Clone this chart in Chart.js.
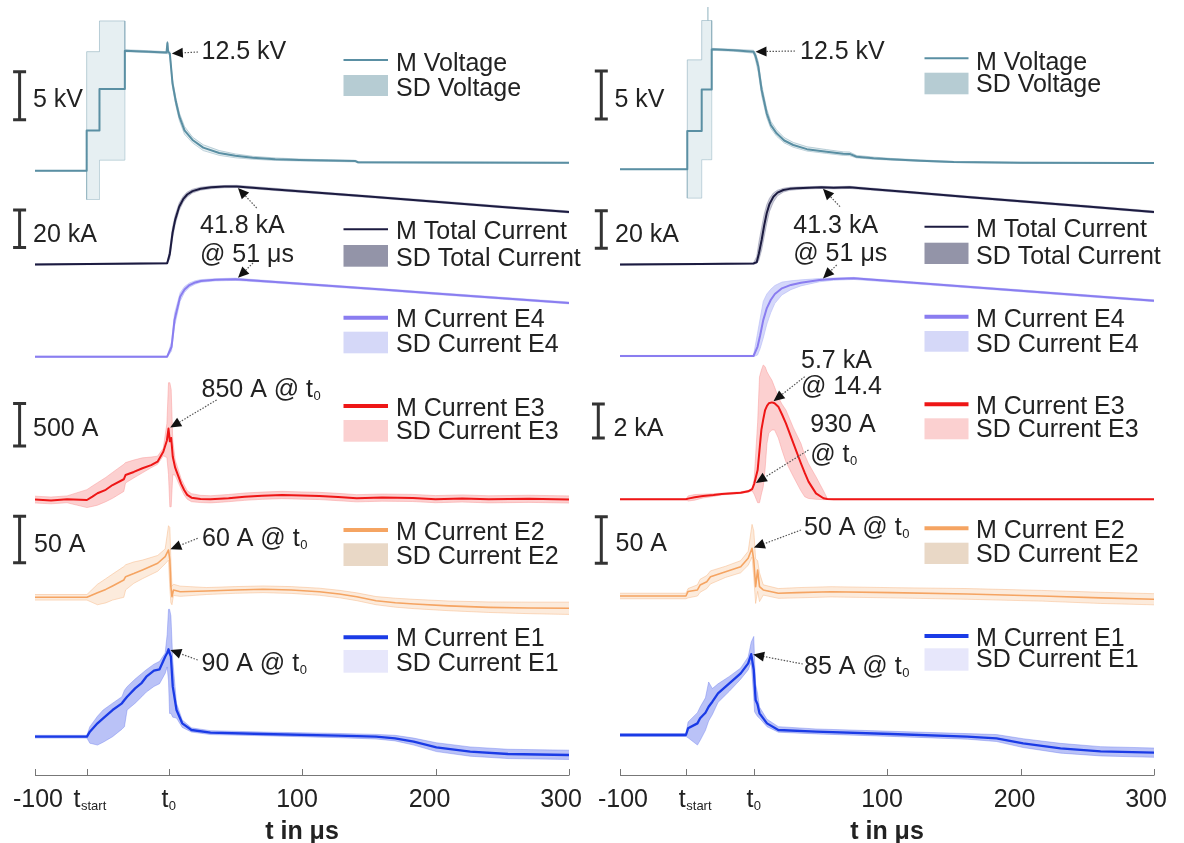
<!DOCTYPE html>
<html>
<head>
<meta charset="utf-8">
<script src="https://cdn.jsdelivr.net/npm/chart.js@4.4.1/dist/chart.umd.min.js"></script>
<style>
  html, body { margin: 0; padding: 0; background: #fff; }
  #wrap { position: relative; width: 1184px; height: 843px; overflow: hidden; }
  canvas { position: absolute; top: 0; }
  #cL { left: 0; }
  #cR { left: 592px; }
</style>
</head>
<body>
<div id="wrap">
  <canvas id="cL" width="592" height="843"></canvas>
  <canvas id="cR" width="592" height="843"></canvas>
</div>
<script>
// ---- x ticks (t in us) ----
const tStartL = -61.3, tStartR = -50.6;
const tickValsL = [-100, tStartL, 0, 100, 200, 300];
const tickValsR = [-100, tStartR, 0, 100, 200, 300];
const tickLabels = [['-100', ''], ['t', 'start'], ['t', '0'], ['100', ''], ['200', ''], ['300', '']];

// ================= left panel =================
// voltage kV
const tVL  = [-100, -61.3, -61.3, -51.7, -51.7, -32.7, -32.7, -15, -1.5, -0.8, -0.3, 1, 3, 5.5, 8.2, 12, 18, 26, 38, 50, 63, 80, 98, 120, 140, 142, 200, 300];
const mVL  = [0, 0, 4.2, 4.2, 8.5, 8.5, 12.5, 12.4, 12.3, 13.3, 12.4, 12.2, 9.1, 7.2, 5.6, 4.2, 3.2, 2.4, 1.85, 1.55, 1.35, 1.2, 1.12, 1.05, 1.0, 0.88, 0.85, 0.82];
const hiVL = [0, 0, 12.4, 12.4, 15.6, 15.6, 12.6, 12.5, 12.4, 13.5, 12.6, 12.4, 9.5, 7.6, 6.0, 4.6, 3.5, 2.7, 2.1, 1.75, 1.5, 1.33, 1.22, 1.13, 1.08, 0.95, 0.9, 0.86];
const loVL = [0, 0, -3.0, -3.0, 1.1, 1.1, 12.4, 12.3, 12.2, 12.2, 12.2, 12.0, 8.7, 6.8, 5.2, 3.8, 2.9, 2.1, 1.6, 1.35, 1.2, 1.07, 1.02, 0.97, 0.92, 0.8, 0.8, 0.78];
// total current kA
const tIL  = [-100, -40, -1, 1, 3, 5, 8, 11, 14, 18, 24, 32, 42, 51, 80, 120, 150, 200, 250, 300];
const mIL  = [0.3, 0.6, 0.9, 6, 17, 24, 31, 35, 37.5, 39.3, 40.6, 41.3, 41.7, 41.8, 40.2, 38.0, 36.4, 33.7, 30.9, 28.2];
const hiIL = [0.6, 0.9, 1.2, 9, 20, 26.5, 33, 36.6, 38.8, 40.3, 41.4, 42.0, 42.3, 42.4, 40.8, 38.5, 36.9, 34.2, 31.4, 28.7];
const loIL = [0.0, 0.3, 0.6, 3.5, 14, 21.5, 29, 33.4, 36.2, 38.3, 39.8, 40.6, 41.1, 41.2, 39.6, 37.5, 35.9, 33.2, 30.4, 27.7];
// current E4 kA
const tE4L  = [-100, -1, 2.3, 4.5, 8.7, 12, 15.7, 20, 24.3, 35, 50, 80, 120, 160, 200, 250, 300];
const mE4L  = [0, 0, 5.3, 19.5, 31.9, 35.8, 38.1, 39.5, 40.3, 40.9, 41.2, 39.7, 37.7, 35.7, 33.6, 31.1, 28.6];
const hiE4L = [0.3, 0.3, 8, 23, 34, 37.3, 39.2, 40.4, 41.0, 41.5, 41.8, 40.2, 38.2, 36.2, 34.1, 31.6, 29.1];
const loE4L = [-0.3, -0.3, 3, 16, 29.5, 34.2, 37.0, 38.6, 39.6, 40.3, 40.6, 39.2, 37.2, 35.2, 33.1, 30.6, 28.1];
// current E3 A
const tE3L  = [-100, -88, -76, -61.1, -57, -53.2, -47, -41.9, -33.5, -32.2, -26, -19.5, -13, -8.2, -3.9, -1.2, 0, 1, 2, 3.2, 5, 7.5, 9.5, 11.7, 14, 17.2, 24, 31.5, 45, 57, 70, 85, 100, 113, 127, 141, 160, 183, 200, 220, 240, 270, 300];
const mE3L  = [5, -6, 8, 0, 40, 79, 120, 176, 244, 294, 330, 373, 410, 451, 568, 700, 840, 690, 730, 509, 380, 274, 190, 118, 60, 27, 12, 8, 22, 39, 50, 59, 52, 47, 35, 20, 28, 24, 10, 18, 8, 14, 6];
const hiE3L = [45, 35, 48, 122, 165, 203, 265, 325, 420, 440, 470, 496, 505, 516, 610, 900, 1380, 1380, 1300, 700, 470, 350, 250, 180, 110, 75, 55, 50, 65, 82, 93, 102, 95, 90, 78, 63, 70, 66, 52, 60, 50, 56, 48];
const loE3L = [-35, -45, -32, -89, -75, -61, -20, 20, 101, 200, 260, 320, 380, 420, 520, 500, 300, -80, -80, 300, 290, 200, 130, 60, 10, -20, -30, -34, -20, -4, 8, 16, 10, 5, -8, -22, -14, -18, -32, -24, -34, -28, -36];
// current E2 A
const tE2L  = [-100, -61.1, -53.2, -47, -41.9, -33.5, -32.1, -26, -19.5, -8.1, -2.5, 0, 1, 1.8, 2.6, 3.7, 8.8, 28.5, 50, 71, 92, 113, 128, 141, 155.5, 170, 184, 210, 240, 270, 300];
const mE2L  = [0, 0, 4.9, 8.5, 12.2, 18.6, 22.2, 25.5, 29.4, 36.6, 43.7, 50.9, 40.1, 11.4, 0.6, 7.8, 6.0, 6.8, 7.9, 8.6, 7.8, 6.0, 3.5, 0.6, -3.7, -5.8, -7.2, -9.2, -10.8, -11.5, -11.8];
const hiE2L = [3, 3, 14, 20, 25, 33, 35, 38, 40, 45, 52, 77, 75, 40, 12, 14, 12, 10.5, 11.5, 12.2, 11.5, 9.8, 7.5, 4.8, 0.8, -1, -2.2, -4, -5, -5.2, -5.2];
const loE2L = [-3, -3, -8, -6, -3, 0, 8, 15, 20, 28, 36, 40, 10, -6, -8, 2, 1, 3, 4.3, 5, 4.2, 2.2, -0.5, -3.6, -8, -10.6, -12.2, -14.4, -16.3, -17.6, -18.4];
// current E1 A
const tE1L  = [-100, -61.1, -58.9, -53.2, -49, -41.9, -34.9, -33, -31, -25, -20, -16.6, -10.9, -6.7, -2.5, -1, 0, 0.8, 1.8, 3.2, 6, 10.3, 17.2, 31.5, 71, 127, 155.5, 169.7, 183.7, 200.7, 226, 254.3, 300];
const mE1L  = [0, 0, 5.4, 14.4, 19.8, 28.7, 35.9, 39.5, 43, 52, 58, 64.5, 71, 72.5, 86, 90, 94, 90, 86, 53.8, 28.7, 14.4, 7.2, 4.3, 2.9, 1.1, 0, -1.7, -5.4, -11.4, -16.1, -18.6, -19.7];
const hiE1L = [1.5, 1.5, 10.8, 22, 28.7, 36, 43, 50, 53.8, 62, 68, 72, 78, 81, 90, 110, 137, 137, 130, 82, 36, 18, 9.5, 6.5, 5, 3.5, 2.5, 1.5, -1.5, -6.5, -11, -13.5, -14.5];
const loE1L = [-1.5, -1.5, -7, -9, -6, 0, 8, 10.8, 28.7, 36, 43, 48, 54, 57, 68, 75, 60, 25, 25, 21, 20, 10, 5, 2.3, 1, -1, -2.5, -4.5, -9, -16, -21, -23.5, -24.5];

// ================= right panel =================
const tVR  = [-100, -49.6, -49.6, -38.8, -38.8, -34.3, -34.2, -34.1, -31.3, -31.3, -15, 0, 1.5, 3.6, 6.1, 9.9, 13, 17.3, 23, 29.8, 40, 54.8, 67.2, 72, 77.2, 90, 102.5, 125, 150, 200, 300];
const mVR  = [0, 0, 4.0, 4.0, 8.3, 8.3, 8.3, 8.3, 8.3, 12.5, 12.4, 12.25, 11.8, 10.7, 8.26, 5.83, 4.6, 3.75, 3.0, 2.53, 2.1, 1.83, 1.62, 1.6, 1.31, 1.15, 1.04, 0.9, 0.76, 0.68, 0.66];
const hiVR = [0, 0, 11.4, 11.4, 15.5, 15.5, 16.9, 15.5, 15.5, 12.6, 12.5, 12.4, 12.1, 11.2, 8.8, 6.3, 5.0, 4.1, 3.3, 2.8, 2.35, 2.05, 1.82, 1.8, 1.45, 1.27, 1.14, 0.98, 0.82, 0.73, 0.7];
const loVR = [0, 0, -3.0, -3.0, 1.0, 1.0, 1.0, 1.0, 1.0, 12.4, 12.3, 12.1, 11.4, 10.1, 7.7, 5.4, 4.25, 3.45, 2.75, 2.3, 1.9, 1.65, 1.45, 1.42, 1.19, 1.05, 0.96, 0.83, 0.7, 0.63, 0.62];

const tIR  = [-100, -40, 0, 2.4, 4, 6.1, 8, 9.9, 12, 14.9, 18, 22.4, 27, 32.4, 42, 51, 60, 72, 85, 120, 160, 200, 250, 300];
const mIR  = [0.2, 0.5, 0.8, 1.5, 6, 13.3, 21, 27.5, 32.5, 36.3, 38.5, 39.9, 40.5, 40.8, 41.1, 41.3, 41.1, 41.3, 40.55, 38.5, 36.2, 33.9, 31.1, 28.2];
const hiIR = [0.5, 0.8, 1.1, 4.5, 12, 20, 27, 32, 35.5, 38.3, 39.8, 40.8, 41.3, 41.5, 41.7, 41.9, 41.7, 41.9, 41.1, 39.0, 36.7, 34.4, 31.6, 28.7];
const loIR = [-0.1, 0.2, 0.5, 0.8, 2.5, 8, 15, 22, 28.5, 33.5, 36.8, 38.8, 39.7, 40.1, 40.5, 40.7, 40.5, 40.7, 40.0, 38.0, 35.7, 33.4, 30.6, 27.7];

const tE4R  = [-100, 0, 3, 5, 7.3, 10, 12.9, 16, 21.3, 28, 35.5, 49.5, 60, 75, 120, 160, 200, 250, 300];
const mE4R  = [0, 0, 4.9, 11, 19.1, 25.5, 29.8, 33, 36.0, 37.8, 39.0, 40.4, 40.9, 41.3, 38.9, 36.8, 34.7, 32.0, 29.4];
const hiE4R = [0.3, 0.3, 12, 20, 29, 33, 35.5, 37.5, 39.3, 40, 40.5, 41.2, 41.5, 41.8, 39.4, 37.3, 35.2, 32.5, 29.9];
const loE4R = [-0.3, -0.3, 0.5, 4, 9.5, 17, 23, 28, 32.5, 35.3, 37.3, 39.5, 40.3, 40.7, 38.4, 36.3, 34.2, 31.5, 28.9];

// current E3 kA
const tE3R  = [-100, -50.6, -49, -44, -37.8, -30, -23.7, -9.6, -4, -1, 0.5, 3.1, 4.5, 5.9, 7.3, 8.7, 10.1, 11.5, 13.8, 15.8, 18.6, 21.3, 24.3, 29.9, 35.5, 38.4, 41.2, 46.8, 52.4, 55.3, 60, 100, 200, 300];
const mE3R  = [0, 0, 0.04, 0.12, 0.19, 0.25, 0.31, 0.39, 0.47, 0.6, 0.9, 1.72, 2.9, 4.08, 4.7, 5.25, 5.5, 5.65, 5.7, 5.65, 5.45, 5.0, 4.47, 3.29, 2.12, 1.55, 1.04, 0.35, 0.06, 0.02, 0, 0, 0, 0];
const hiE3R = [0.02, 0.02, 0.2, 0.28, 0.3, 0.33, 0.36, 0.44, 0.52, 0.65, 1.2, 4.5, 7.2, 7.6, 7.9, 7.8, 7.5, 7.3, 7.0, 6.6, 6.0, 5.6, 5.25, 4.2, 3.29, 2.6, 2.1, 1.33, 0.5, 0.05, 0.02, 0.02, 0.02, 0.02];
const loE3R = [-0.02, -0.02, -0.1, -0.05, 0.08, 0.17, 0.26, 0.34, 0.42, 0.5, 0.3, -0.2, -0.2, 0.3, 0.74, 1.8, 3.29, 3.9, 4.08, 4.08, 3.6, 2.9, 2.2, 1.33, 0.5, 0.15, 0.05, 0, -0.02, -0.02, -0.02, -0.02, -0.02, -0.02];

const tE2R  = [-100, -50.6, -49, -42, -40, -35, -32.2, -20.9, -9.6, -4, -1.1, 0.2, 1.6, 3.1, 4.5, 7.3, 18.6, 32.7, 58, 103, 160, 216, 260, 300];
const mE2R  = [0, 0, 4.9, 6.5, 11.8, 15.4, 20.8, 26.1, 31.5, 40.5, 51.3, 38.7, 10, 28, 10, 6.5, 2.9, 3.6, 4.6, 3.6, 2.2, 0, -2, -3.5];
const hiE2R = [3, 3, 8, 12, 18, 22, 27, 32, 38, 48, 77, 70, 40, 38, 25, 12, 8, 9, 10, 9, 8, 6, 4, 2.5];
const loE2R = [-3, -3, -2, 0, 4, 8, 13, 20, 25, 33, 42, 20, -8, 5, -6, 1, -2.5, -2, -1, -2, -3.5, -5.5, -8, -9.5];

const tE1R  = [-100, -50.6, -49, -42, -40, -36, -33.6, -30.8, -26.6, -18.1, -9.6, -4, -1.7, 0.2, 0.8, 1.6, 3, 4.5, 10.1, 18.6, 46.8, 103, 160, 182, 202, 230, 260, 300];
const mE1R  = [0, 0, 7.2, 12.5, 18, 24, 30.4, 35.8, 44.8, 55.6, 66.3, 77, 87, 70, 55.6, 37.6, 33, 23.3, 12.5, 5.4, 3.6, 1.1, -1.8, -3.6, -9, -14.3, -17.5, -19];
const hiE1R = [1.5, 1.5, 14, 24, 30, 40, 57, 50, 55, 63, 72, 84, 100, 106, 80, 55, 45, 30, 17, 9, 6.5, 4, 1.5, 0.5, -4, -9, -12.5, -14];
const loE1R = [-1.5, -1.5, -3, -10.8, -6, 5, 15, 22, 35, 47, 60, 70, 78, 40, 25, 23, 20, 18, 9, 3, 1.2, -1.5, -4.5, -7, -13.5, -19.5, -22.5, -24];

// legend labels
const legendNames = {
  V: ['M Voltage', 'SD Voltage'],
  I: ['M Total Current', 'SD Total Current'],
  E4: ['M Current E4', 'SD Current E4'],
  E3: ['M Current E3', 'SD Current E3'],
  E2: ['M Current E2', 'SD Current E2'],
  E1: ['M Current E1', 'SD Current E1']
};

// ---------------- styling ----------------
var FONT = '"Liberation Sans", Arial, Helvetica, sans-serif';
var TXT = '#222';
var FS = 25;        // main font size
var AREA_B = 775;   // plot bottom / x axis line
var tickShift = [3, 0, 0, -5, -6, -8];  // label offsets from tick, as in the figure

var styles = {
  V:  {mean: '#5a8fa3', mw: 2,   fill: 'rgba(196,216,223,0.42)', edge: 'rgba(120,160,176,0.6)', leg: '#b6ccd3', lw: 2},
  I:  {mean: '#1c1b40', mw: 2,   fill: 'rgba(130,132,162,0.45)', edge: 'rgba(130,132,162,0.6)', leg: '#9394a8', lw: 2},
  E4: {mean: '#8a7df0', mw: 2,   fill: 'rgba(178,184,246,0.55)', edge: 'rgba(178,184,246,0.7)', leg: '#d5d8f8', lw: 4},
  E3: {mean: '#ee1616', mw: 2,   fill: 'rgba(248,150,150,0.45)', edge: 'rgba(248,150,150,0.6)', leg: '#fbd0d0', lw: 4},
  E2: {mean: '#f5a462', mw: 1.6, fill: 'rgba(245,190,140,0.3)',  edge: 'rgba(245,175,120,0.55)', leg: '#e9d8c6', lw: 4},
  E1: {mean: '#1a3be6', mw: 2.3, fill: 'rgba(90,110,235,0.42)',  edge: 'rgba(90,110,235,0.45)', leg: '#e7e7fb', lw: 4}
};

var panels = [
  {
    canvas: 'cL', off: 0, left: 35, right: 569, ticks: tickValsL, tsShift: 3,
    // baseline pixel, px per unit
    base: {V: [170.7, 9.6], I: [265, 1.88], E4: [356.7, 1.88], E3: [500, 0.085], E2: [597.3, 0.93], E1: [736.7, 0.93]},
    series: {
      V: [tVL, mVL, hiVL, loVL], I: [tIL, mIL, hiIL, loIL], E4: [tE4L, mE4L, hiE4L, loE4L],
      E3: [tE3L, mE3L, hiE3L, loE3L], E2: [tE2L, mE2L, hiE2L, loE2L], E1: [tE1L, mE1L, hiE1L, loE1L]
    },
    legX: [343.5, 388, 396],
    legY: {V: [60, 61.5, 75, 96, 87], I: [229.3, 230, 245, 266.7, 256.7], E4: [317.7, 318, 331.7, 353.3, 343.3],
           E3: [406, 406.7, 420, 441.7, 430], E2: [530, 530.7, 543.3, 566, 555], E1: [637.3, 637.3, 650, 672.7, 661.7]},
    bars: [
      {key: 'V', x: 19.6, v: [5.3, 10.3], text: '5 kV', tx: 33, ty: 98},
      {key: 'I', x: 19.6, v: [9.3, 29.3], text: '20 kA', tx: 33, ty: 233},
      {key: 'E3', x: 19.6, v: [635, 1135], text: '500 A', tx: 33, ty: 426.7},
      {key: 'E2', x: 19.6, v: [37.2, 87.2], text: '50 A', tx: 34, ty: 543}
    ],
    texts: [['12.5 kV', '', 201.5, 50], ['41.8 kA', '', 200, 224], ['@ 51 μs', '', 200, 253],
            ['850 A @ t', '0', 201.5, 388], ['60 A @ t', '0', 202, 536.7], ['90 A @ t', '0', 201.5, 661.7]],
    arrows: [[198, 52, 'V', 1, 12.2], [256.7, 208, 'I', 51, 41.8], [253, 263, 'E4', 51, 41.2],
             [216.6, 400, 'E3', 0, 840], [197.7, 538.3, 'E2', 0, 50.9], [197.7, 660, 'E1', 0, 94]]
  },
  {
    canvas: 'cR', off: 592, left: 620, right: 1154, ticks: tickValsR, tsShift: 9,
    base: {V: [169.3, 9.6], I: [265, 1.88], E4: [356, 1.88], E3: [499.3, 17], E2: [596, 0.93], E1: [735, 0.93]},
    series: {
      V: [tVR, mVR, hiVR, loVR], I: [tIR, mIR, hiIR, loIR], E4: [tE4R, mE4R, hiE4R, loE4R],
      E3: [tE3R, mE3R, hiE3R, loE3R], E2: [tE2R, mE2R, hiE2R, loE2R], E1: [tE1R, mE1R, hiE1R, loE1R]
    },
    legX: [924.5, 968.5, 976],
    legY: {V: [58.3, 60.7, 72.7, 94.3, 83.3], I: [226.7, 228, 242.7, 264, 255], E4: [316.7, 318, 331, 351.7, 343],
           E3: [404.3, 405, 418.3, 439.3, 427.7], E2: [528.3, 529.3, 542.7, 564, 553.3], E1: [636, 636.7, 648.3, 670.7, 658.3]},
    bars: [
      {key: 'V', x: 601.3, v: [5.24, 10.24], text: '5 kV', tx: 614.5, ty: 98.3},
      {key: 'I', x: 601.3, v: [8.9, 28.9], text: '20 kA', tx: 615, ty: 233.3},
      {key: 'E3', x: 598.3, v: [3.6, 5.6], text: '2 kA', tx: 613.4, ty: 426.7},
      {key: 'E2', x: 601.3, v: [35.2, 85.2], text: '50 A', tx: 615.6, ty: 541.7}
    ],
    texts: [['12.5 kV', '', 800, 50], ['41.3 kA', '', 793.3, 224], ['@ 51 μs', '', 793.3, 251.7],
            ['5.7 kA', '', 801, 359.3], ['@ 14.4', '', 801, 385], ['930 A', '', 810.3, 423.3], ['@ t', '0', 810.3, 452.7],
            ['50 A @ t', '0', 804, 526], ['85 A @ t', '0', 804, 665]],
    arrows: [[795, 51, 'V', 0, 12.25], [840, 206.7, 'I', 51, 41.3], [836.7, 265, 'E4', 51, 40.5],
             [804.7, 376.7, 'E3', 13.8, 5.7], [808.5, 450, 'E3', 0.5, 0.9], [801, 530, 'E2', -1.1, 51.3], [802.8, 664, 'E1', -1.7, 87]]
  }
];

function pts(t, v) {
  return t.map(function (x, i) { return {x: x, y: v[i]}; });
}

// text with optional subscript, y = visual middle of capitals
function drawText(ctx, main, sub, x, y, align, bold) {
  var f = (bold ? 'bold ' : '') + FS + 'px ' + FONT;
  ctx.font = f;
  var w1 = ctx.measureText(main).width;
  ctx.font = '13px ' + FONT;
  var w2 = sub ? ctx.measureText(sub).width : 0;
  var x0 = align === 'center' ? x - (w1 + w2) / 2 : x;
  ctx.textAlign = 'left';
  ctx.textBaseline = 'alphabetic';
  ctx.fillStyle = TXT;
  ctx.font = f;
  ctx.fillText(main, x0, y + 9);
  if (sub) {
    ctx.font = '13px ' + FONT;
    ctx.fillText(sub, x0 + w1 + 0.5, y + 12);
  }
}

function drawArrow(ctx, x1, y1, x2, y2) {
  var dx = x2 - x1, dy = y2 - y1, len = Math.sqrt(dx * dx + dy * dy);
  var ux = dx / len, uy = dy / len;
  var tx = x2 - ux * 2, ty = y2 - uy * 2;     // tip sits just off the curve
  var hl = 11, hw = 5;
  var bx = tx - ux * hl, by = ty - uy * hl;
  ctx.save();
  ctx.strokeStyle = '#555';
  ctx.lineWidth = 1.2;
  ctx.setLineDash([1.5, 1.5]);
  ctx.beginPath();
  ctx.moveTo(x1, y1);
  ctx.lineTo(bx, by);
  ctx.stroke();
  ctx.setLineDash([]);
  ctx.fillStyle = '#111';
  ctx.beginPath();
  ctx.moveTo(tx, ty);
  ctx.lineTo(bx - uy * hw, by + ux * hw);
  ctx.lineTo(bx + uy * hw, by - ux * hw);
  ctx.closePath();
  ctx.fill();
  ctx.restore();
}

var overlay = {
  id: 'overlay',
  afterDraw: function (chart) {
    var P = chart.options.plugins.overlay.panel;
    var ctx = chart.ctx, xs = chart.scales.x, o = P.off;
    ctx.save();

    // x axis line + inward ticks
    ctx.strokeStyle = '#777';
    ctx.lineWidth = 1;
    ctx.beginPath();
    ctx.moveTo(xs.left, AREA_B + 0.5);
    ctx.lineTo(xs.right, AREA_B + 0.5);
    P.ticks.forEach(function (v) {
      var px = Math.round(xs.getPixelForValue(v)) + 0.5;
      ctx.moveTo(px, AREA_B + 0.5);
      ctx.lineTo(px, AREA_B - 6);
    });
    ctx.stroke();
    P.ticks.forEach(function (v, i) {
      var px = xs.getPixelForValue(v) + tickShift[i];
      if (i === 1) px += P.tsShift;
      drawText(ctx, tickLabels[i][0], tickLabels[i][1], px, 798, 'center');
    });
    drawText(ctx, 't in μs', '', (xs.left + xs.right) / 2, 830, 'center', true);

    // scale bars
    P.bars.forEach(function (b) {
      var ys = chart.scales['y' + b.key];
      var y1 = ys.getPixelForValue(b.v[0]), y2 = ys.getPixelForValue(b.v[1]);
      var x = b.x - o;
      ctx.strokeStyle = '#333';
      ctx.lineWidth = 3;
      ctx.beginPath();
      ctx.moveTo(x, y1); ctx.lineTo(x, y2);
      ctx.moveTo(x - 6.5, y1); ctx.lineTo(x + 6.5, y1);
      ctx.moveTo(x - 6.5, y2); ctx.lineTo(x + 6.5, y2);
      ctx.stroke();
      drawText(ctx, b.text, '', b.tx - o, b.ty, 'left');
    });

    // legends
    Object.keys(P.legY).forEach(function (k) {
      var L = P.legY[k], st = styles[k];
      var x1 = P.legX[0] - o, x2 = P.legX[1] - o, tx = P.legX[2] - o;
      ctx.strokeStyle = st.mean;
      ctx.lineWidth = st.lw;
      ctx.beginPath();
      ctx.moveTo(x1, L[0]); ctx.lineTo(x2, L[0]);
      ctx.stroke();
      ctx.fillStyle = st.leg;
      ctx.fillRect(x1, L[2], x2 - x1, L[3] - L[2]);
      drawText(ctx, legendNames[k][0], '', tx, L[1], 'left');
      drawText(ctx, legendNames[k][1], '', tx, L[4], 'left');
    });

    // annotations
    P.texts.forEach(function (t) { drawText(ctx, t[0], t[1], t[2] - o, t[3], 'left'); });
    P.arrows.forEach(function (a) {
      var ys = chart.scales['y' + a[2]];
      drawArrow(ctx, a[0] - o, a[1], xs.getPixelForValue(a[3]), ys.getPixelForValue(a[4]));
    });
    ctx.restore();
  }
};

panels.forEach(function (P) {
  var datasets = [];
  var scales = {x: {type: 'linear', min: -100, max: 300, display: false}};
  Object.keys(P.series).forEach(function (k) {
    var s = P.series[k], st = styles[k];
    var base = P.base[k][0], kpx = P.base[k][1];
    var id = 'y' + k;
    scales[id] = {type: 'linear', display: false, min: -(AREA_B - base) / kpx, max: base / kpx};
    datasets.push({label: legendNames[k][1], data: pts(s[0], s[2]), yAxisID: id, borderColor: st.edge,
                   borderWidth: 0.8, backgroundColor: st.fill, fill: '+1', order: 2});
    datasets.push({label: legendNames[k][1] + ' low', data: pts(s[0], s[3]), yAxisID: id, borderColor: st.edge,
                   borderWidth: 0.8, fill: false, order: 2});
    datasets.push({label: legendNames[k][0], data: pts(s[0], s[1]), yAxisID: id, borderColor: st.mean,
                   borderWidth: st.mw, fill: false, order: 1});
  });

  new Chart(document.getElementById(P.canvas), {
    type: 'line',
    data: {datasets: datasets},
    options: {
      responsive: false,
      animation: false,
      devicePixelRatio: 1,
      events: [],
      layout: {padding: {left: P.left - P.off, right: P.off + 592 - P.right, top: 0, bottom: 843 - AREA_B}},
      elements: {
        line: {tension: 0, borderJoinStyle: 'round'},
        point: {radius: 0}
      },
      scales: scales,
      plugins: {
        legend: {display: false},
        tooltip: {enabled: false},
        overlay: {panel: P}
      }
    },
    plugins: [overlay]
  });
});
</script>
</body>
</html>
